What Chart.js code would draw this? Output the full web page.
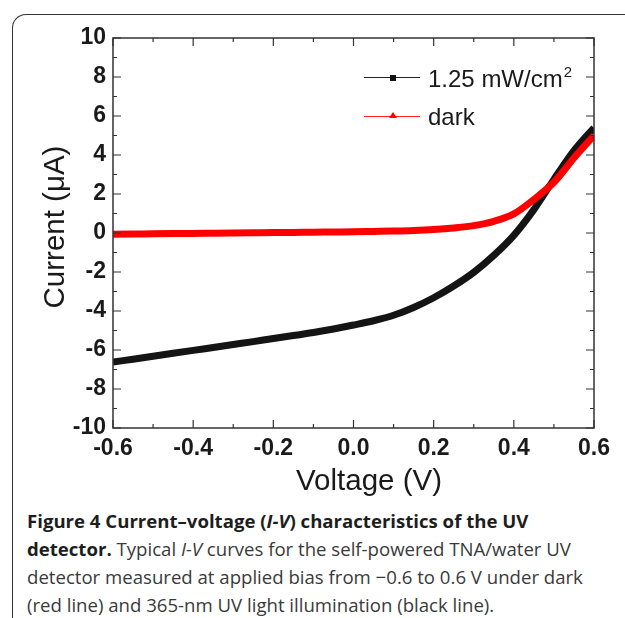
<!DOCTYPE html>
<html>
<head>
<meta charset="utf-8">
<script src="https://cdn.jsdelivr.net/npm/chart.js@4/dist/chart.umd.min.js"></script>
<style>
  html, body { margin:0; padding:0; background:#fff; }
  body { width:625px; height:618px; position:relative; overflow:hidden; }
  .frame { position:absolute; left:12px; top:14px; width:640px; height:640px;
    border-top:1.5px solid #333; border-left:1.5px solid #333; border-top-left-radius:14px; }
  .cw { position:absolute; left:0; top:0; width:625px; height:502px; }
  .ax { position:absolute; font-family:"Liberation Sans", Arial, sans-serif; font-size:29.5px;
    line-height:30px; color:#1a1a1a; white-space:nowrap; }
  .lg { position:absolute; font-family:"Liberation Sans", Arial, sans-serif; font-size:24px; color:#1a1a1a; }
  .lg .ln { position:absolute; left:364px; width:56px; height:1.3px; }
  .lg .tx { position:absolute; left:428px; white-space:nowrap; line-height:24px; }
  .cap { position:absolute; left:27px; top:507px; width:598px; font-family:"Open Sans", sans-serif;
    font-size:18.6px; line-height:28px; color:#3a3a3a; white-space:nowrap; }
  .cap b { color:#1e1e1e; }
</style>
</head>
<body>
<div class="frame"></div>
<div class="cw"><canvas id="chIV"></canvas></div>

<div class="ax" style="left:295px;top:465px;width:148px;text-align:center">Voltage (V)</div>
<div class="ax" style="left:-46px;top:212px;width:200px;text-align:center;transform:rotate(-90deg)">Current (μA)</div>

<div class="lg">
  <div class="ln" style="top:77px;background:#222"></div>
  <div style="position:absolute;left:390px;top:75px;width:6px;height:6px;background:#111"></div>
  <div class="tx" style="top:67px">1.25 mW/cm<sup style="font-size:15px;vertical-align:10px;line-height:0;margin-left:1px">2</sup></div>
  <div class="ln" style="top:116px;background:#ff2020"></div>
  <div style="position:absolute;left:389px;top:112px;width:0;height:0;border-left:4px solid transparent;border-right:4px solid transparent;border-bottom:6px solid #ff0000"></div>
  <div class="tx" style="top:105px">dark</div>
</div>

<div class="cap">
  <b>Figure 4 Current–voltage (<i>I-V</i>) characteristics of the UV</b><br>
  <b>detector.</b> Typical <i>I-V</i> curves for the self-powered TNA/water UV<br>
  detector measured at applied bias from −0.6 to 0.6 V under dark<br>
  (red line) and 365-nm UV light illumination (black line).
</div>

<script>
// I-V data
const VOLTAGE = [-0.6, -0.55, -0.5, -0.45, -0.4, -0.35, -0.3, -0.25, -0.2, -0.15, -0.1, -0.05,
  0.0, 0.05, 0.1, 0.15, 0.2, 0.25, 0.3, 0.35, 0.4, 0.45, 0.5, 0.55, 0.6];
const I_LIGHT = [-6.62, -6.47, -6.32, -6.17, -6.02, -5.87, -5.72, -5.57, -5.41, -5.26, -5.1, -4.92,
  -4.72, -4.5, -4.22, -3.82, -3.32, -2.72, -2.02, -1.15, -0.12, 1.2, 2.75, 4.22, 5.4];
const I_DARK = [-0.06, -0.05, -0.04, -0.03, -0.02, -0.01, 0.0, 0.01, 0.02, 0.03, 0.04, 0.05,
  0.06, 0.08, 0.1, 0.13, 0.18, 0.26, 0.38, 0.6, 0.98, 1.72, 2.6, 3.85, 5.0];
const X_TICKS = [-0.6, -0.4, -0.2, 0.0, 0.2, 0.4, 0.6];
const Y_TICKS = [-10, -8, -6, -4, -2, 0, 2, 4, 6, 8, 10];

const AX = '#333';

// inward ticks on all four sides + box
const boxTicks = {
  id: 'boxTicks',
  afterDatasetsDraw(chart) {
    const { ctx, chartArea: a, scales: { x, y } } = chart;
    ctx.save();
    ctx.strokeStyle = AX; ctx.lineWidth = 1.5;
    ctx.strokeRect(a.left, a.top, a.right - a.left, a.bottom - a.top);
    ctx.lineWidth = 1.2;
    ctx.beginPath();
    for (let v = -6; v <= 6; v++) {
      const px = x.getPixelForValue(v / 10), len = v % 2 === 0 ? 8 : 4;
      ctx.moveTo(px, a.bottom); ctx.lineTo(px, a.bottom - len);
      ctx.moveTo(px, a.top); ctx.lineTo(px, a.top + len);
    }
    for (let v = -10; v <= 10; v++) {
      const py = y.getPixelForValue(v), len = v % 2 === 0 ? 8 : 4;
      ctx.moveTo(a.left, py); ctx.lineTo(a.left + len, py);
      ctx.moveTo(a.right, py); ctx.lineTo(a.right - len, py);
    }
    ctx.stroke();
    ctx.restore();
  }
};

const pts = arr => VOLTAGE.map((v, i) => ({ x: v, y: arr[i] }));
const tickFont = { family: '"Liberation Sans", Arial, sans-serif', size: 23, weight: 'bold' };

new Chart(document.getElementById('chIV'), {
  type: 'line',
  data: {
    datasets: [
      { label: 'dark', data: pts(I_DARK), borderColor: '#ff0000', borderWidth: 7, pointRadius: 0,
        cubicInterpolationMode: 'monotone', clip: 0 },
      { label: '1.25 mW/cm2', data: pts(I_LIGHT), borderColor: '#141414', borderWidth: 7, pointRadius: 0,
        cubicInterpolationMode: 'monotone', clip: 0 },
    ]
  },
  options: {
    responsive: true, maintainAspectRatio: false, animation: false,
    layout: { padding: { top: 38, right: 31, left: 0, bottom: 0 } },
    plugins: { legend: { display: false }, tooltip: { enabled: false } },
    scales: {
      x: {
        type: 'linear', min: -0.6, max: 0.6,
        afterBuildTicks: s => { s.ticks = X_TICKS.map(v => ({ value: v })); },
        afterFit: s => { s.height = 74; },
        ticks: { font: tickFont, color: '#1a1a1a', padding: 7, callback: v => v.toFixed(1) },
        grid: { display: false, drawTicks: false },
        border: { display: false }
      },
      y: {
        min: -10, max: 10,
        afterBuildTicks: s => { s.ticks = Y_TICKS.map(v => ({ value: v })); },
        afterFit: s => { s.width = 113; },
        ticks: { font: tickFont, color: '#1a1a1a', padding: 7 },
        grid: { display: false, drawTicks: false },
        border: { display: false }
      }
    }
  },
  plugins: [boxTicks]
});
</script>
</body>
</html>
